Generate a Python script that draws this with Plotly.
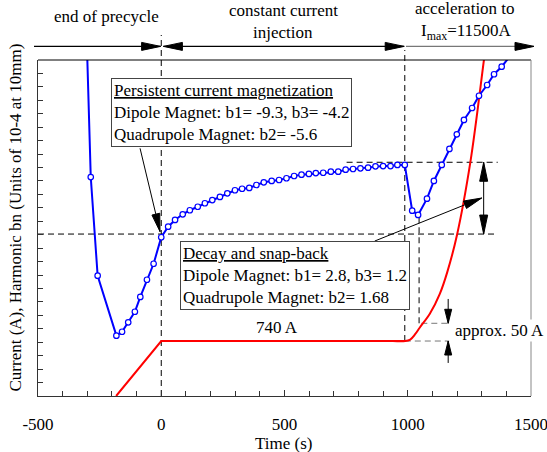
import math
import plotly.graph_objects as go

# ---------------- data ----------------
# y axis is unlabeled: arbitrary units 0..25 (one tick per unit)
blue_t = [-303, -286, -258, -182, -159, -134, -107, -85, -58, -31, 0,
          28, 56, 87, 116, 148, 177, 207, 238, 268, 299, 328, 357, 386, 416, 448, 478, 508,
          539, 569, 599, 627, 657, 688, 718, 748, 778, 808, 839, 869, 900, 930, 958, 988,
          1018, 1042, 1078, 1106, 1138, 1169, 1199, 1228, 1261, 1289, 1322, 1350, 1381, 1411]
blue_v = [27.0, 16.29, 8.95, 4.49, 4.78, 5.48, 6.27, 7.37, 8.65, 9.84, 11.81,
          12.60, 13.10, 13.52, 13.82, 14.08, 14.34, 14.58, 14.81, 15.08, 15.31, 15.42, 15.48, 15.70, 15.90, 16.00, 16.07, 16.20,
          16.37, 16.47, 16.52, 16.59, 16.61, 16.69, 16.69, 16.84, 16.89, 16.94, 16.99, 17.09, 17.11, 17.11, 17.19, 17.19,
          13.79, 13.47, 14.68, 16.00, 17.19, 18.38, 19.47, 20.54, 21.43, 22.34, 23.14, 23.94, 24.50, 25.20]

red_ramp_t = [-183, 0, 990]
red_ramp_v = [0.0, 4.09, 4.09]
red_acc_t = [940, 990, 1010, 1030, 1049, 1089, 1130, 1160, 1200, 1254, 1309, 1330]
red_acc_v = [4.09, 4.09, 4.20, 4.60, 5.10, 6.10, 7.60, 9.20, 12.00, 17.40, 25.00, 28.00]

x_ticks = [-500, 0, 500, 1000, 1500]

# reference levels
V_INJ = 4.09        # 740 A plateau
V_INJ50 = 5.41      # approx. +50 A
V_LOW = 12.05       # lower dashed level
V_HIGH = 17.39      # upper dashed level
T_RAMP = 988        # start of acceleration
T_MIN = 1046        # snap-back minimum
V_MIN = 13.47

X0, X1 = -500, 1500
Y0, Y1 = 0, 25
L, T, W, H = 38, 60, 493, 336
FW, FH = 547, 452
FONT = "Liberation Serif, Times New Roman, serif"


def to_px(t, v):
    return (L + (t - X0) / (X1 - X0) * W, T + (1 - (v - Y0) / (Y1 - Y0)) * H)


def ppx(px):
    return (px - L) / W


def ppy(py):
    return (T + H - py) / H


def head(xa, ya, ang, xref="x", yref="y", color="black", ln=19, hw=4):
    a = math.radians(ang)
    dx, dy = math.cos(a), math.sin(a)
    bx, by = -ln * dx, -ln * dy
    nx, ny = -dy, dx
    p = (f"M0,0 L{bx + hw * nx:.2f},{by + hw * ny:.2f} "
         f"L{bx - hw * nx:.2f},{by - hw * ny:.2f} Z")
    return dict(type="path", path=p, xref=xref, yref=yref, xsizemode="pixel",
                ysizemode="pixel", xanchor=xa, yanchor=ya, fillcolor=color,
                line=dict(color=color, width=1), layer="above")


def seg(x0, y0, x1, y1, xref="x", yref="y", color="black", width=1, dash=None, layer="above"):
    d = dict(type="line", x0=x0, y0=y0, x1=x1, y1=y1, xref=xref, yref=yref,
             line=dict(color=color, width=width), layer=layer)
    if dash:
        d["line"]["dash"] = dash
    return d


def angle_data(t0, v0, t1, v1):
    a = to_px(t0, v0)
    b = to_px(t1, v1)
    return math.degrees(math.atan2(-(b[1] - a[1]), b[0] - a[0]))


fig = go.Figure()
fig.add_trace(go.Scatter(x=red_ramp_t, y=red_ramp_v, mode="lines",
                         line=dict(color="#ff0000", width=2), hoverinfo="skip"))
fig.add_trace(go.Scatter(x=red_acc_t, y=red_acc_v, mode="lines",
                         line=dict(color="#ff0000", width=2, shape="spline"), hoverinfo="skip"))
fig.add_trace(go.Scatter(x=blue_t, y=blue_v, mode="lines",
                         line=dict(color="#0000ff", width=2), hoverinfo="skip"))
fig.add_trace(go.Scatter(x=blue_t[1:-1], y=blue_v[1:-1], mode="markers",
                         marker=dict(symbol="circle", size=5.5, color="white",
                                     line=dict(color="#0000ff", width=1.2)),
                         hoverinfo="skip"))

DASH = "6px,4px"
shapes = []
# dashed guide lines
shapes.append(seg(0, 0, 0, ppy(35), xref="x", yref="paper", dash=DASH, layer="below"))
shapes.append(seg(T_RAMP, V_INJ / Y1, T_RAMP, ppy(50), xref="x", yref="paper", dash=DASH, layer="below"))
shapes.append(seg(T_MIN, V_INJ50, T_MIN, V_MIN, dash=DASH, layer="below"))
shapes.append(seg(X0, V_LOW, 1365, V_LOW, dash=DASH, layer="below"))
shapes.append(seg(752, V_HIGH, 1365, V_HIGH, dash=DASH, layer="below"))
shapes.append(seg(1055, V_INJ50, 1168, V_INJ50, color="#777777", dash=DASH, layer="below"))
shapes.append(seg(T_RAMP, V_INJ, 1168, V_INJ, color="#777777", dash=DASH, layer="below"))

# frame top / right
shapes.append(seg(0, 1, 1, 1, xref="paper", yref="paper", color="black", width=1))
shapes.append(seg(1, 0, 1, 1, xref="paper", yref="paper", color="#888888", width=1))

# top phase arrows (paper coords)
ya = ppy(46.4)
shapes.append(seg(ppx(34), ya, ppx(160.6), ya, xref="paper", yref="paper", width=1.2))
shapes.append(head(ppx(160.6), ya, 0, "paper", "paper"))
shapes.append(seg(ppx(163.4), ya, ppx(404.2), ya, xref="paper", yref="paper", width=1.2))
shapes.append(head(ppx(163.4), ya, 180, "paper", "paper"))
shapes.append(head(ppx(404.2), ya, 0, "paper", "paper"))
shapes.append(seg(ppx(406), ya, ppx(534), ya, xref="paper", yref="paper", color="#777777", width=1.2))
shapes.append(head(ppx(534), ya, 0, "paper", "paper"))

# annotation arrows
a1 = (-86, 18.43, -5, 12.23)
shapes.append(seg(*a1))
shapes.append(head(a1[2], a1[3], angle_data(*a1), ln=18))
a2 = (866, 11.53, 1300, 14.73)
shapes.append(seg(*a2))
shapes.append(head(a2[2], a2[3], angle_data(*a2), ln=18))

# double arrow between dashed levels
shapes.append(seg(1308, V_LOW, 1308, V_HIGH))
shapes.append(head(1308, V_HIGH, 90))
shapes.append(head(1308, V_LOW, -90))

# approx 50 A arrows
shapes.append(seg(1164, 7.22, 1164, V_INJ50))
shapes.append(head(1164, V_INJ50, -90, ln=14, hw=3.5))
shapes.append(seg(1164, 2.46, 1164, V_INJ))
shapes.append(head(1164, V_INJ, 90, ln=14, hw=3.5))

tf = dict(family=FONT, size=17, color="black")
ann = []
ann.append(dict(text="end of precycle", x=ppx(106), y=ppy(16.4), xref="paper", yref="paper",
                showarrow=False, font=tf, xanchor="center", yanchor="middle"))
ann.append(dict(text="constant current", x=ppx(283.4), y=ppy(10.5), xref="paper", yref="paper",
                showarrow=False, font=tf, xanchor="center", yanchor="middle"))
ann.append(dict(text="injection", x=ppx(282.7), y=ppy(32), xref="paper", yref="paper",
                showarrow=False, font=tf, xanchor="center", yanchor="middle"))
ann.append(dict(text="acceleration to", x=ppx(465), y=ppy(8.7), xref="paper", yref="paper",
                showarrow=False, font=tf, xanchor="center", yanchor="middle"))
ann.append(dict(text="I<sub>max</sub>=11500A", x=ppx(466), y=ppy(32.5), xref="paper", yref="paper",
                showarrow=False, font=tf, xanchor="center", yanchor="middle"))

ann.append(dict(text="<u>Persistent current magnetization</u><br>Dipole Magnet: b1= -9.3, b3= -4.2"
                     "<br>Quadrupole Magnet: b2= -5.6",
                x=ppx(111), y=ppy(78.3), xref="paper", yref="paper", xanchor="left", yanchor="top",
                align="left", showarrow=False, font=tf, bgcolor="white", bordercolor="#444444",
                borderwidth=1, borderpad=2))
ann.append(dict(text="<u>Decay and snap-back</u><br>Dipole Magnet: b1= 2.8, b3= 1.2"
                     "<br>Quadrupole Magnet: b2= 1.68",
                x=ppx(180), y=ppy(240.7), xref="paper", yref="paper", xanchor="left", yanchor="top",
                align="left", showarrow=False, font=tf, bgcolor="white", bordercolor="#444444",
                borderwidth=1, borderpad=2))
ann.append(dict(text="740 A", x=468, y=5.11, xref="x", yref="y", showarrow=False, font=tf,
                xanchor="center", yanchor="middle"))
ann.append(dict(text="approx. 50 A", x=ppx(453), y=ppy(330), xref="paper", yref="paper",
                showarrow=False, font=tf, xanchor="left", yanchor="middle", bgcolor="white",
                borderpad=1))
ann.append(dict(text="Current (A), Harmonic bn (Units of 10-4 at 10mm)", x=ppx(15), y=ppy(217.5),
                xref="paper", yref="paper", textangle=-90, showarrow=False, font=tf,
                xanchor="center", yanchor="middle"))
ann.append(dict(text="Time (s)", x=ppx(283.4), y=ppy(443.5), xref="paper", yref="paper",
                showarrow=False, font=tf, xanchor="center", yanchor="middle"))

fig.update_layout(
    width=FW, height=FH,
    margin=dict(l=L, r=FW - L - W, t=T, b=FH - T - H, autoexpand=False),
    paper_bgcolor="white", plot_bgcolor="white",
    showlegend=False,
    font=dict(family=FONT, size=17, color="black"),
    xaxis=dict(range=[X0, X1], tickmode="array", tickvals=x_ticks,
               ticktext=[str(v) for v in x_ticks],
               ticks="inside", ticklen=6, tickcolor="#333333", tickwidth=1,
               ticklabelstandoff=13, ticklabeloverflow="allow",
               minor=dict(tick0=X0, dtick=100, ticks="inside", ticklen=5, tickcolor="#333333",
                          showgrid=False),
               showline=True, linecolor="#333333", linewidth=1, showgrid=False, zeroline=False,
               tickfont=dict(family=FONT, size=17, color="black")),
    yaxis=dict(range=[Y0, Y1], dtick=1, ticks="inside", ticklen=5, tickcolor="#333333",
               showticklabels=False, showline=True, linecolor="#333333", linewidth=1,
               showgrid=False, zeroline=False),
    shapes=shapes,
    annotations=ann,
)

fig.write_html("out.html", config={"displayModeBar": False},
               post_script="document.body.style.margin='0';document.body.style.overflow='hidden';")
